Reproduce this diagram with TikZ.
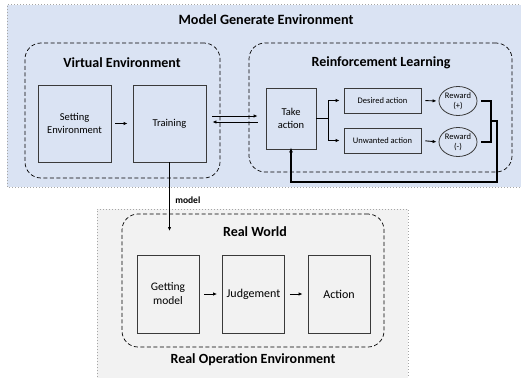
\documentclass[tikz,border=0pt]{standalone}
\usepackage{fontspec}
\setmainfont{Carlito}
\usetikzlibrary{arrows.meta,calc,shapes.geometric}
\definecolor{bluebg}{HTML}{DAE3F3}
\definecolor{graybg}{HTML}{F2F2F2}
\definecolor{edge}{HTML}{3A3A3A}
\tikzset{
  outerbox/.style={draw=gray!70, dotted, line width=1pt},
  groupbox/.style={draw=black, dash pattern=on 4pt off 2.5pt, line width=0.7pt, rounded corners=16pt, minimum width=#1},
  blockbox/.style={draw=edge, line width=0.8pt, fill=none, align=center, inner sep=1pt},
  rewardel/.style={ellipse, draw=edge, line width=0.8pt, align=center, inner sep=0pt, minimum width=38pt, minimum height=29pt, font=\fontsize{8.5}{10}\selectfont},
  conn/.style={line width=0.9pt, -{Latex[length=4pt,width=3.4pt]}},
  plain/.style={line width=1.3pt},
  title/.style={font=\bfseries\fontsize{14.2}{16}\selectfont},
  subtitle/.style={font=\bfseries\fontsize{14}{16}\selectfont},
}
\begin{document}
\begin{tikzpicture}[x=1pt,y=-1pt]
\useasboundingbox (0,0) rectangle (521,377);
% backgrounds
\fill[bluebg] (7,5) rectangle (525,187);
\draw[outerbox] (525,5) -- (7,5) -- (7,187) -- (525,187);
\fill[graybg] (97,209) rectangle (408,380);
\draw[outerbox] (97,380) -- (97,209) -- (408,209) -- (408,380);
\node[title] (mge) at (266,20) {Model Generate Environment};

% Virtual environment
\node[groupbox=195pt, minimum height=135pt] (ve) at (122.5,110.5) {};
\node[subtitle] (vet) at (122,63) {Virtual Environment};
\node[blockbox, minimum width=73pt, minimum height=77pt, font=\fontsize{10.5}{13}\selectfont] (set) at (74.5,123.5) {Setting\\Environment};
\node[blockbox, minimum width=73pt, minimum height=77pt, font=\fontsize{10.5}{13}\selectfont] (train) at (169.5,123.5) {Training};
\draw[conn, shorten <=4pt, shorten >=5pt] (set.east) -- (train.west);

% Reinforcement learning
\node[groupbox=263pt, minimum height=129pt] (rl) at (380.5,107.5) {};
\node[subtitle] (rlt) at (381,63) {Reinforcement Learning};
\node[blockbox, minimum width=50pt, minimum height=61pt, font=\fontsize{10.5}{13}\selectfont] (take) at (291,118.5) {Take\\action};
\node[blockbox, minimum width=77pt, minimum height=25pt, font=\fontsize{8.5}{10}\selectfont] (des) at (382.5,100.5) {Desired action};
\node[blockbox, minimum width=77pt, minimum height=25pt, font=\fontsize{8.5}{10}\selectfont] (unw) at (382.5,140.5) {Unwanted action};
\node[rewardel] (rp) at (458,101) {Reward\\(+)};
\node[rewardel] (rm) at (458,142) {Reward\\(-)};

\coordinate (br) at (328,118.5);
\draw[plain] (take.east) -- (br);
\draw[conn] (br) |- ([xshift=-4pt]des.west);
\draw[conn] (br) |- ([xshift=-4pt]unw.west);
\draw[conn, shorten <=4pt, shorten >=2pt] (des.east) -- (rp.west);
\draw[conn, shorten <=4pt, shorten >=2pt] (unw.east) -- (rm.west);
\coordinate (bk) at (491,121);
\draw[plain] ([xshift=4pt]rp.east) -| (bk) |- ([xshift=4pt]rm.east);
\coordinate (lp1) at (497,121);
\coordinate (lp2) at (497,182);
\draw[line width=1.1pt, -{Latex[length=5pt,width=4pt]}] (bk) -- (lp1) -- (lp2) -| ([yshift=2pt]take.south);

% double arrows
\coordinate (da1) at ($(train.east)+(6,-7.5)$);
\coordinate (da2) at ($(take.west)+(-8,-2.5)$);
\coordinate (db1) at ($(train.east)+(6,-1.5)$);
\coordinate (db2) at ($(take.west)+(-8,3.5)$);
\draw[conn] (da1) -- (da2);
\draw[conn] (db2) -- (db1);

% model link
\coordinate (mend) at (169.5,231);
\draw[conn] (train.south) -- node[pos=0.55, right=2pt, font=\bfseries\fontsize{9.5}{11}\selectfont] (mlab) {model} (mend);

% Real world
\node[groupbox=262pt, minimum height=133pt] (rw) at (253,280.5) {};
\node[subtitle] (rwt) at (255,232) {Real World};
\node[blockbox, minimum width=62pt, minimum height=78pt, font=\fontsize{11.5}{14}\selectfont] (get) at (168,294) {Getting\\model};
\node[blockbox, minimum width=62pt, minimum height=78pt, font=\fontsize{12}{14}\selectfont] (jud) at (253.5,294) {Judgement};
\node[blockbox, minimum width=62pt, minimum height=78pt, font=\fontsize{12}{14}\selectfont] (act) at (339,294) {Action};
\draw[conn, shorten <=5pt, shorten >=5pt] (get.east) -- (jud.west);
\draw[conn, shorten <=5pt, shorten >=5pt] (jud.east) -- (act.west);
\node[subtitle] (roe) at (253,360) {Real Operation Environment};
\end{tikzpicture}
\end{document}
